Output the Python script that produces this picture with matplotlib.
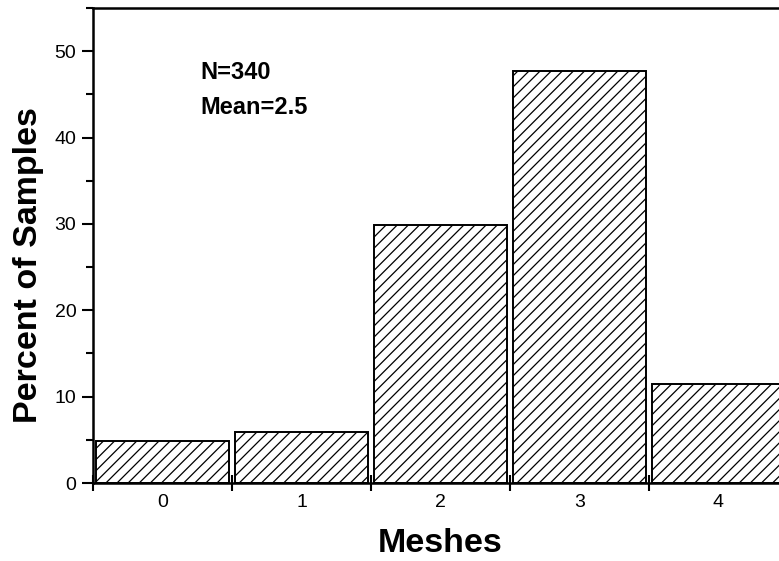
import numpy as np
import matplotlib
matplotlib.use("Agg")
import matplotlib.pyplot as plt
from matplotlib.ticker import FixedLocator, MultipleLocator

plt.rcParams['font.family'] = ['Liberation Sans', 'DejaVu Sans']
plt.rcParams['hatch.linewidth'] = 0.9

meshes = [0, 1, 2, 3, 4]
percent = [4.85, 5.9, 29.9, 47.7, 11.5]
tick_labels = ['0', '1', '2', '3', '4']
n_samples = 340
mean_meshes = 2.5

fig = plt.figure(figsize=(7.79, 5.61), dpi=100)
ax = fig.add_axes([93/779, 1-483/561, 695/779, 475/561])

ax.bar(meshes, percent, width=0.95, color='white', edgecolor='black',
       linewidth=1.4, hatch='///')

ax.set_xlim(-0.5, 4.5)
ax.set_ylim(0, 55)

# edge ticks without labels, centre labels without ticks
ax.xaxis.set_major_locator(FixedLocator([-0.5, 0.5, 1.5, 2.5, 3.5, 4.5]))
ax.xaxis.set_minor_locator(FixedLocator(meshes))
ax.set_xticklabels([])
ax.set_xticklabels(tick_labels, minor=True)
ax.tick_params(axis='x', which='major', direction='inout', length=12, width=1.5)
ax.tick_params(axis='x', which='minor', length=0, pad=8, labelsize=14)

ax.yaxis.set_major_locator(MultipleLocator(10))
ax.yaxis.set_minor_locator(MultipleLocator(5))
ax.tick_params(axis='y', which='major', direction='out', length=8, width=1.5, labelsize=14, pad=4)
ax.tick_params(axis='y', which='minor', direction='out', length=5, width=1.5)

for s in ax.spines.values():
    s.set_linewidth(1.8)

fig.text(200/779, 1-79/561, 'N=%d' % n_samples, fontsize=17, fontweight='bold', va='baseline')
fig.text(200/779, 1-114/561, 'Mean=%.1f' % mean_meshes, fontsize=17, fontweight='bold', va='baseline')

fig.text(37/779, 1-265/561, 'Percent of Samples', rotation=90, fontsize=24.5,
         fontweight='bold', ha='center', va='baseline', rotation_mode='anchor')
fig.text(440/779, 1-552/561, 'Meshes', fontsize=24.5, fontweight='bold',
         ha='center', va='baseline')

fig.savefig('out.png', dpi=100)
